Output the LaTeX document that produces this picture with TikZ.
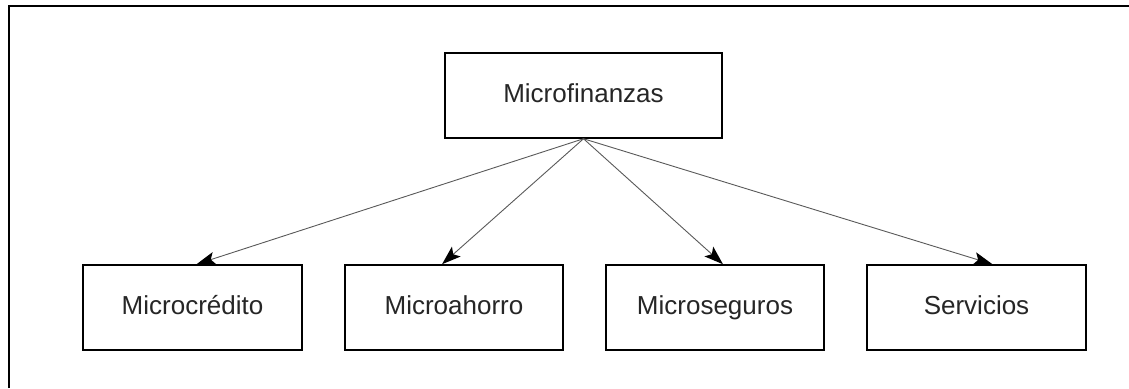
\documentclass[tikz,border=0pt]{standalone}
\usepackage{fontspec}
\setmainfont{Liberation Sans}
\usetikzlibrary{arrows.meta}

\newlength{\du}
\setlength{\du}{1pt}
\definecolor{dialinecolor}{rgb}{0.000000, 0.000000, 0.000000}
\definecolor{dialinetext}{rgb}{0.150000, 0.150000, 0.150000}
\definecolor{dialinearrow}{rgb}{0.350000, 0.350000, 0.350000}

\begin{document}
\begin{tikzpicture}[x=1\du,y=-1\du,
  caja/.style={draw=dialinecolor, line width=1.5\du, fill=white, inner sep=0pt,
    minimum height=85\du, text height=19\du, text depth=5\du,
    text=dialinetext, font=\fontsize{26}{30}\selectfont},
  flecha/.style={draw=dialinearrow, line width=0.9\du,
    -{Stealth[length=19pt,width=13pt,inset=4pt,black,line width=1.5pt]}}]
\useasboundingbox (0,0) rectangle (1129,388);
% marco
\draw[line width=2.8\du, dialinecolor] (9,388)--(9,6)--(1129,6);
% cajas
\node[caja, minimum width=277\du] (microfinanzas) at (583.5,95.5) {Microfinanzas};
\node[caja, minimum width=219\du] (microcredito) at (192.5,307.5) {Microcrédito};
\node[caja, minimum width=218\du] (microahorro) at (454,307.5) {Microahorro};
\node[caja, minimum width=218\du] (microseguros) at (715,307.5) {Microseguros};
\node[caja, minimum width=219\du] (servicios) at (976.5,307.5) {Servicios};
% flechas
\draw[flecha] (microfinanzas.south) -- ([xshift=4pt]microcredito.north);
\draw[flecha] (microfinanzas.south) -- ([xshift=-12pt]microahorro.north);
\draw[flecha] (microfinanzas.south) -- ([xshift=8pt]microseguros.north);
\draw[flecha] (microfinanzas.south) -- ([xshift=16pt]servicios.north);
\end{tikzpicture}
\end{document}
